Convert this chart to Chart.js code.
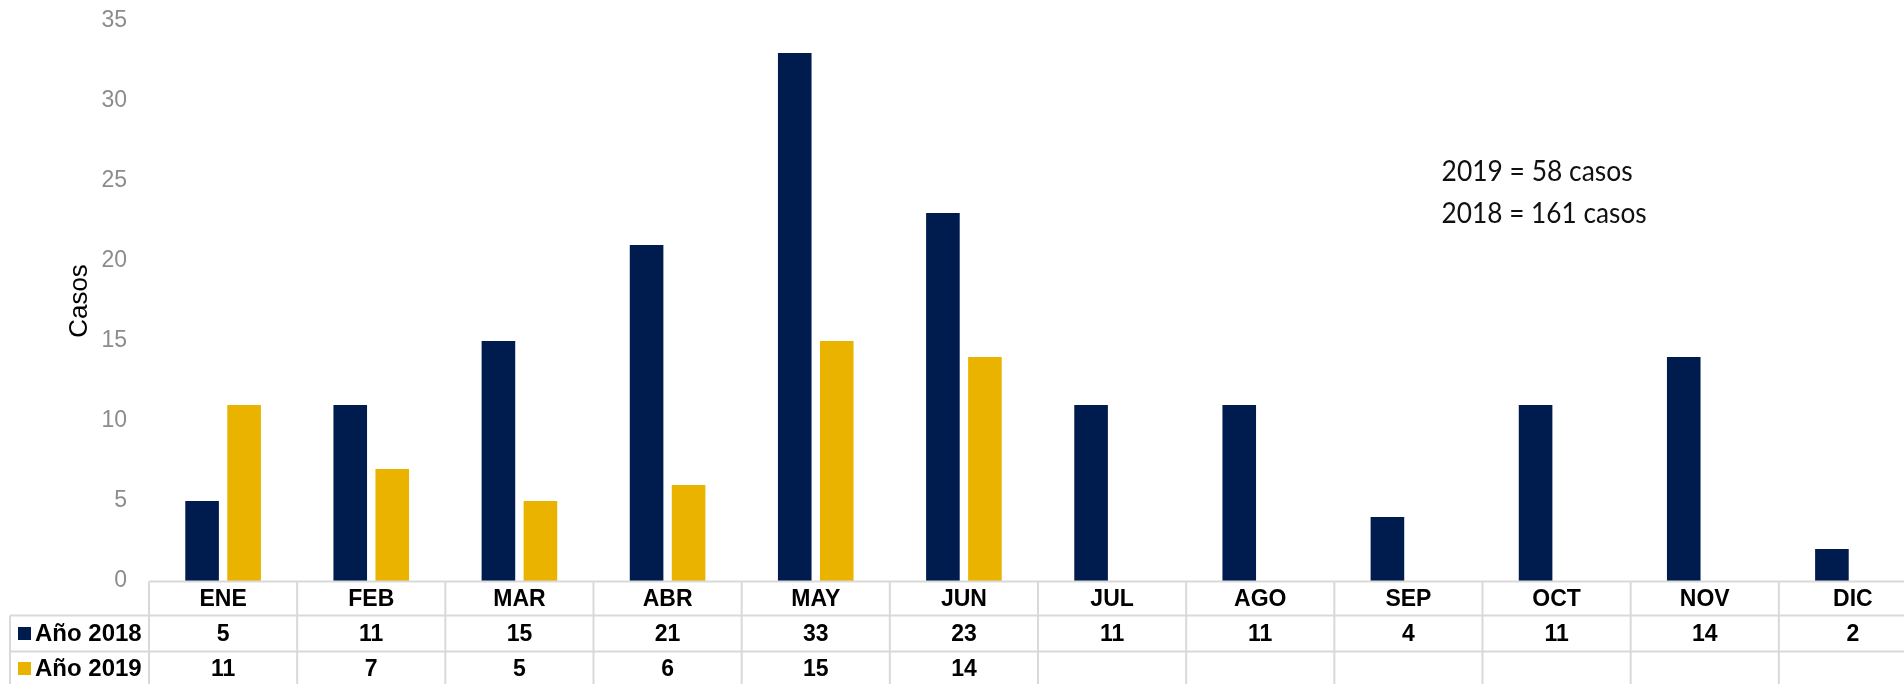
<!DOCTYPE html>
<html>
<head>
<meta charset="utf-8">
<script src="https://cdn.jsdelivr.net/npm/chart.js@4.4.1/dist/chart.umd.min.js"></script>
<style>
  html, body { margin: 0; padding: 0; overflow: hidden; background: #fff; }
</style>
</head>
<body>
<canvas id="plot" width="1927" height="684"></canvas>
<script>
  // datos del grafico
  const meses = ['ENE', 'FEB', 'MAR', 'ABR', 'MAY', 'JUN', 'JUL', 'AGO', 'SEP', 'OCT', 'NOV', 'DIC'];
  const casos2018 = [5, 11, 15, 21, 33, 23, 11, 11, 4, 11, 14, 2];
  const casos2019 = [11, 7, 5, 6, 15, 14, null, null, null, null, null, null];
  const series = ['Año 2018', 'Año 2019'];
  const colores = ['#001B4E', '#E9B300'];
  const yMin = 0, yMax = 35, yPaso = 5;
  const notas = ['2019 = 58 casos', '2018 = 161 casos'];

  const fuente = "'Liberation Sans', Arial, sans-serif";

  // tabla de datos bajo el eje x
  const tablaPlugin = {
    id: 'tabla',
    afterDraw(chart) {
      const ctx = chart.ctx;
      const area = chart.chartArea;
      const x = chart.scales.x;
      const colW = (area.right - area.left) / meses.length;
      const top = area.bottom + 0.5;
      const filaY = [top, top + 34, top + 70];   // bordes superiores de cada fila
      const filaH = [34, 36, 34];
      const filas = [casos2018, casos2019];

      ctx.save();
      ctx.strokeStyle = '#D9D9D9';
      ctx.lineWidth = 2;

      // lineas horizontales
      ctx.beginPath();
      ctx.moveTo(area.left, filaY[0]);
      ctx.lineTo(area.right, filaY[0]);
      for (let r = 1; r <= 2; r++) {
        ctx.moveTo(10, filaY[r]);
        ctx.lineTo(area.right, filaY[r]);
      }
      // lineas verticales
      for (let i = 0; i <= meses.length; i++) {
        const xb = area.left + i * colW;
        ctx.moveTo(xb, top);
        ctx.lineTo(xb, chart.height);
      }
      ctx.moveTo(10, filaY[1]);
      ctx.lineTo(10, chart.height);
      ctx.stroke();

      ctx.fillStyle = '#000';
      ctx.font = 'bold 23px ' + fuente;
      ctx.textAlign = 'center';
      ctx.textBaseline = 'middle';
      for (let i = 0; i < meses.length; i++) {
        const cx = x.getPixelForValue(i);
        ctx.fillText(meses[i], cx, filaY[0] + filaH[0] / 2 + 1);
        for (let r = 0; r < filas.length; r++) {
          const v = filas[r][i];
          if (v !== null) ctx.fillText(String(v), cx, filaY[r + 1] + filaH[r + 1] / 2 + 1);
        }
      }

      // encabezados de fila con su color
      ctx.textAlign = 'left';
      for (let r = 0; r < series.length; r++) {
        const cy = filaY[r + 1] + filaH[r + 1] / 2;
        ctx.fillStyle = colores[r];
        ctx.fillRect(18, cy - 6.5, 13, 13);
        ctx.fillStyle = '#000';
        ctx.font = 'bold 24px ' + fuente;
        ctx.fillText(series[r], 35, cy + 1);
      }

      // notas de totales
      ctx.font = "29px Lato, 'Open Sans', sans-serif";
      ctx.fillStyle = '#111';
      ctx.textBaseline = 'alphabetic';
      const nx = area.left + (area.right - area.left) * 0.727;
      ctx.fillText(notas[0], nx, area.top + 160, 191);
      ctx.fillText(notas[1], nx, area.top + 202, 205);
      ctx.restore();
    }
  };

  const data = {
    labels: meses,
    datasets: [
      { label: series[0], data: casos2018, backgroundColor: colores[0] },
      { label: series[1], data: casos2019, backgroundColor: colores[1] }
    ]
  };

  const config = {
    type: 'bar',
    data: data,
    options: {
      responsive: false,
      animation: false,
      devicePixelRatio: 1,
      layout: { padding: { top: 21, bottom: 103, left: 0, right: 0 } },
      datasets: {
        bar: { categoryPercentage: 0.567, barPercentage: 0.8, borderWidth: 0 }
      },
      plugins: {
        legend: { display: false },
        tooltip: { enabled: false }
      },
      scales: {
        x: {
          display: false
        },
        y: {
          min: yMin,
          max: yMax,
          border: { display: false },
          // sin lineas, pero tickLength separa las etiquetas del area
          grid: { display: false, drawTicks: true, tickLength: 22 },
          ticks: {
            stepSize: yPaso,
            padding: 0,
            color: '#8C8C8C',
            font: { family: fuente, size: 23 }
          },
          title: {
            display: true,
            text: 'Casos',
            color: '#000',
            padding: { top: 64, bottom: 0 },
            font: { family: fuente, size: 26 }
          },
          afterFit(scale) { scale.width = 149; }
        }
      }
    },
    plugins: [tablaPlugin]
  };

  let plotCtx = document.getElementById('plot').getContext('2d');
  let chart = new Chart(plotCtx, config);
</script>
</body>
</html>
